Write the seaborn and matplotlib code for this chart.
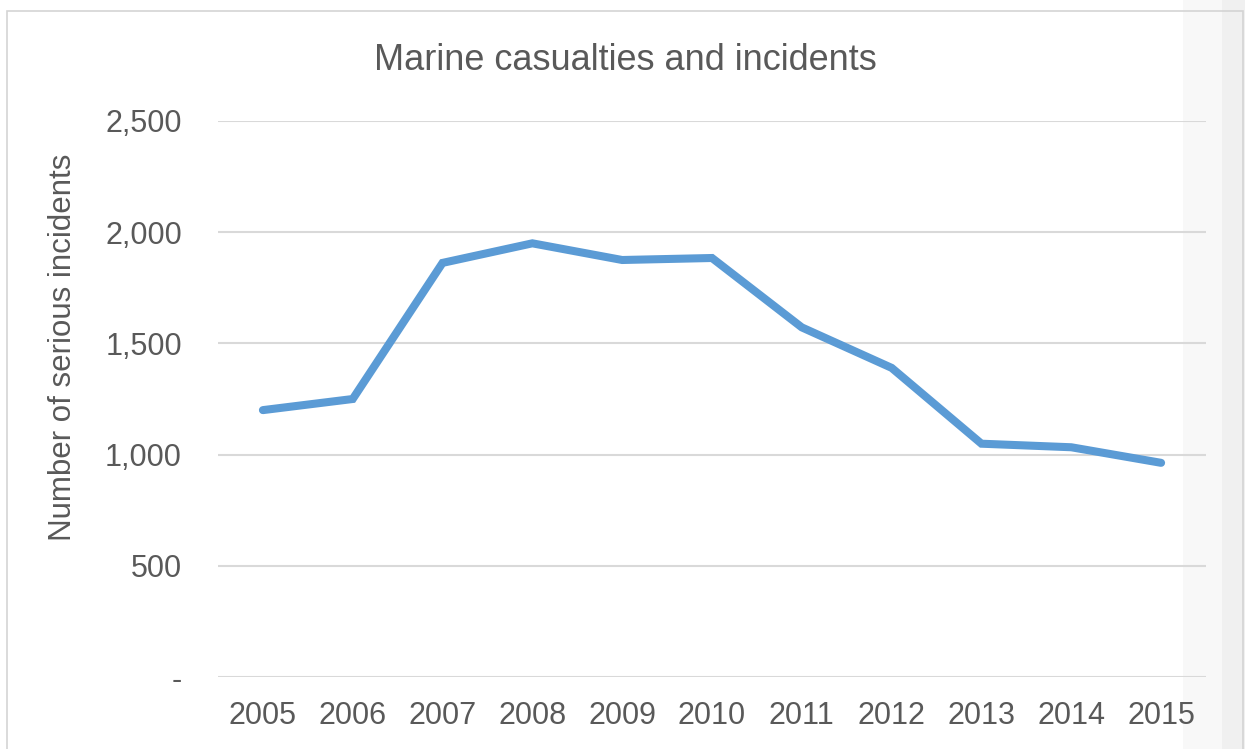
import matplotlib
matplotlib.use('Agg')
import matplotlib.pyplot as plt
from matplotlib.patches import Rectangle
from matplotlib.ticker import FuncFormatter
import pandas as pd
import seaborn as sns

# data
years = [2005, 2006, 2007, 2008, 2009, 2010, 2011, 2012, 2013, 2014, 2015]
incidents = [1200, 1250, 1862, 1950, 1875, 1884, 1572, 1390, 1049, 1033, 963]
y_ticks = [0, 500, 1000, 1500, 2000, 2500]

title = 'Marine casualties and incidents'
y_label = 'Number of serious incidents'

text_color = '#595959'
line_color = '#5B9BD5'
grid_color = '#D9D9D9'

sns.set_theme(style='white')
plt.rcParams['font.family'] = ['Liberation Sans', 'DejaVu Sans']

df = pd.DataFrame({'year': years, 'incidents': incidents})

fig = plt.figure(figsize=(12.45, 7.49), dpi=100)
fig.patch.set_facecolor('white')

# grey strip on the right and thin border, as in the screenshot
fig.patches.append(Rectangle((1183 / 1245, 0), 40 / 1245, 1, transform=fig.transFigure,
                             facecolor='#F8F8F8', edgecolor='none', zorder=-2))
fig.patches.append(Rectangle((1222 / 1245, 0), 23 / 1245, 1, transform=fig.transFigure,
                             facecolor='#F0F0F0', edgecolor='none', zorder=-2))
fig.patches.append(Rectangle((7 / 1245, -0.05), 1236 / 1245, 1 - 11 / 749 + 0.05,
                             transform=fig.transFigure, facecolor='none',
                             edgecolor='#D4D4D4', linewidth=1.2, zorder=-1))

ax = fig.add_axes([218 / 1245, 1 - 677 / 749, (1206 - 218) / 1245, (677 - 121) / 749])
ax.set_facecolor('none')

sns.lineplot(data=df, x='year', y='incidents', ax=ax, color=line_color,
             linewidth=5.8, solid_capstyle='round', solid_joinstyle='miter')

ax.set_xlim(years[0] - 0.5, years[-1] + 0.5)
ax.set_ylim(0, 2500)
ax.set_xticks(years)
ax.set_yticks(y_ticks)
ax.yaxis.set_major_formatter(FuncFormatter(lambda v, p: '-' if v == 0 else '{:,.0f}'.format(v)))

ax.grid(axis='y', color=grid_color, linewidth=1.5)
ax.set_axisbelow(True)
for s in ax.spines.values():
    s.set_visible(False)

ax.tick_params(axis='x', length=0, pad=17, labelsize=22, labelcolor=text_color)
ax.tick_params(axis='y', length=0, pad=26, labelsize=22, labelcolor=text_color)

ax.set_xlabel('')
ax.set_ylabel(y_label, fontsize=22.5, color=text_color)
ax.yaxis.set_label_coords(-140 / 988, 0.5 + 52 / 556)

fig.text(625 / 1245, 1 - 60 / 749, title, ha='center', va='center',
         fontsize=26, color=text_color)

fig.savefig('out.png', dpi=100, facecolor=fig.get_facecolor())
